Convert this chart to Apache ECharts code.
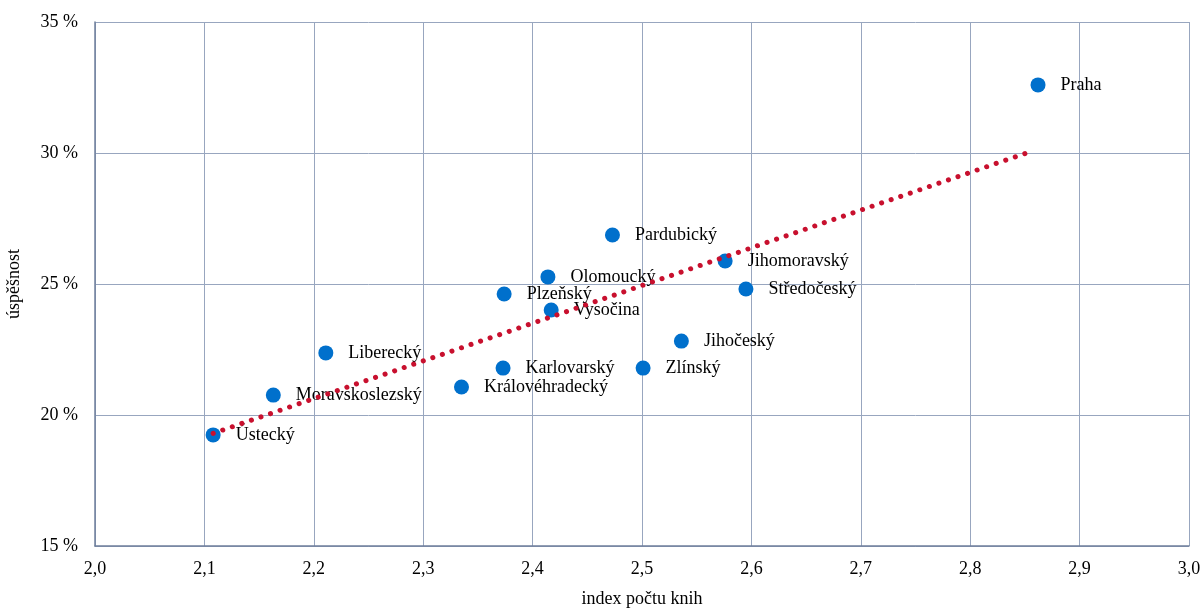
<!DOCTYPE html>
<html>
<head>
<meta charset="utf-8">
<script src="https://cdn.jsdelivr.net/npm/echarts@6/dist/echarts.min.js"></script>
<style>
  html, body { margin: 0; padding: 0; background: #fff; }
  #chart { width: 1200px; height: 610px; }
</style>
</head>
<body>
<div id="chart"></div>
<script>
// regions: index počtu knih vs. úspěšnost (%)
const regions = ['Praha', 'Pardubický', 'Jihomoravský', 'Středočeský', 'Olomoucký', 'Plzeňský',
  'Vysočina', 'Jihočeský', 'Liberecký', 'Karlovarský', 'Zlínský', 'Královéhradecký',
  'Moravskoslezský', 'Ústecký'];
const bookIndex = [2.862, 2.473, 2.576, 2.595, 2.414, 2.374, 2.417, 2.536, 2.211, 2.373, 2.501, 2.335, 2.163, 2.108];
const success = [32.6, 26.87, 25.88, 24.81, 25.27, 24.62, 24.01, 22.82, 22.37, 21.79, 21.79, 21.07, 20.76, 19.24];

// trend line endpoints
const trendX = [2.108, 2.857];
const trendY = [19.3, 30.08];

const serif = '"Liberation Serif", "Times New Roman", serif';
const gridColor = '#98a6bf';
const axisColor = '#6f7f9c';

const chart = echarts.init(document.getElementById('chart'));
chart.setOption({
  backgroundColor: '#ffffff',
  animation: false,
  grid: { left: 95, right: 11, top: 22, bottom: 64, outerBoundsMode: 'none', containLabel: false },
  xAxis: {
    type: 'value',
    min: 2.0,
    max: 3.0,
    interval: 0.1,
    name: 'index počtu knih',
    nameLocation: 'middle',
    nameGap: 44,
    nameTextStyle: { color: '#000', fontFamily: serif, fontSize: 18 },
    axisLine: { show: true, lineStyle: { color: axisColor, width: 1.5 } },
    axisTick: { show: false },
    axisLabel: {
      color: '#000', fontFamily: serif, fontSize: 18, margin: 14,
      formatter: v => v.toFixed(1).replace('.', ',')
    },
    splitLine: { show: true, lineStyle: { color: gridColor, width: 1 } },
  },
  yAxis: {
    type: 'value',
    min: 15,
    max: 35,
    interval: 5,
    name: 'úspěšnost',
    nameLocation: 'middle',
    nameGap: 72,
    nameRotate: 90,
    nameTextStyle: { color: '#000', fontFamily: serif, fontSize: 18 },
    axisLine: { show: true, lineStyle: { color: axisColor, width: 1.5 } },
    axisTick: { show: false },
    axisLabel: {
      color: '#000', fontFamily: serif, fontSize: 18, margin: 17,
      formatter: v => v + ' %'
    },
    splitLine: { show: true, lineStyle: { color: gridColor, width: 1 } },
  },
  series: [
    {
      name: 'kraje',
      type: 'scatter',
      symbol: 'circle',
      symbolSize: 15,
      itemStyle: { color: '#0070cc', opacity: 1 },
      label: {
        show: true,
        position: 'right',
        distance: 15,
        color: '#000',
        fontFamily: serif,
        fontSize: 18,
        formatter: p => p.data[2],
      },
      data: regions.map((r, i) => [bookIndex[i], success[i], r]),
      z: 2,
    },
    {
      name: 'trend',
      type: 'line',
      symbol: 'none',
      silent: true,
      lineStyle: { color: '#c8102e', width: 5, type: [0.1, 10], cap: 'round', opacity: 1 },
      data: trendX.map((x, i) => [x, trendY[i]]),
      z: 3,
    },
  ],
});
</script>
</body>
</html>
